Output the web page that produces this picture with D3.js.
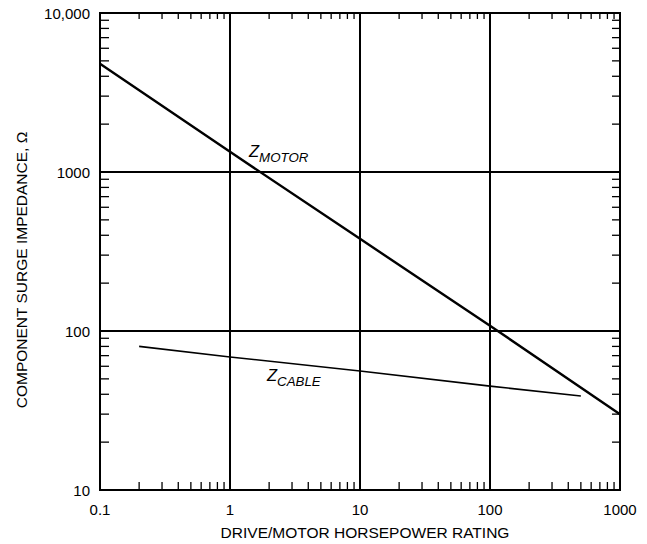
<!DOCTYPE html>
<html><head><meta charset="utf-8">
<script src="https://cdn.jsdelivr.net/npm/d3@7/dist/d3.min.js"></script>
<style>body{margin:0;background:#fff}svg{display:block}text{font-family:"Liberation Sans",Arial,sans-serif;fill:#000}</style>
</head><body><svg id="c" width="647" height="544"></svg>
<script>
const xTicks = [0.1, 1, 10, 100, 1000];
const xTickLabels = ["0.1", "1", "10", "100", "1000"];
const yTicks = [10, 100, 1000, 10000];
const yTickLabels = ["10", "100", "1000", "10,000"];
const motorHp = [0.1, 1, 10, 100, 1000];
const motorZ = [4800, 1340, 380, 108, 30];
const cableHp = [0.2, 1, 10, 100, 500];
const cableZ = [80, 68.7, 56, 45, 39];
const xTitle = "DRIVE/MOTOR HORSEPOWER RATING";
const yTitle = "COMPONENT SURGE IMPEDANCE, Ω";

const L = 100, R = 620, T = 13, B = 490;
const svg = d3.select("#c");
const x = d3.scaleLog().domain([0.1, 1000]).range([L, R]);
const y = d3.scaleLog().domain([10, 10000]).range([B, T]);

const minorX = [], minorY = [];
for (let d = 0.1; d < 1000; d *= 10) for (let k = 2; k <= 9; k++) minorX.push(d * k);
for (let d = 10; d < 10000; d *= 10) for (let k = 2; k <= 9; k++) minorY.push(d * k);

const g = svg.append("g");
g.selectAll(".mxb").data(minorX).enter().append("line")
  .attr("x1", d => x(d)).attr("x2", d => x(d)).attr("y1", B).attr("y2", B - 8)
  .attr("stroke", "#000").attr("stroke-width", 1.3);
g.selectAll(".mxt").data(minorX).enter().append("line")
  .attr("x1", d => x(d)).attr("x2", d => x(d)).attr("y1", T).attr("y2", T + 6)
  .attr("stroke", "#000").attr("stroke-width", 1.3);
g.selectAll(".myl").data(minorY).enter().append("line")
  .attr("y1", d => y(d)).attr("y2", d => y(d)).attr("x1", L).attr("x2", L + 9)
  .attr("stroke", "#000").attr("stroke-width", 1.3);
g.selectAll(".myr").data(minorY).enter().append("line")
  .attr("y1", d => y(d)).attr("y2", d => y(d)).attr("x1", R).attr("x2", R - 8)
  .attr("stroke", "#000").attr("stroke-width", 1.3);

g.selectAll(".gx").data(xTicks.slice(1, -1)).enter().append("line")
  .attr("x1", d => x(d)).attr("x2", d => x(d)).attr("y1", T).attr("y2", B)
  .attr("stroke", "#000").attr("stroke-width", 2);
g.selectAll(".gy").data(yTicks.slice(1, -1)).enter().append("line")
  .attr("y1", d => y(d)).attr("y2", d => y(d)).attr("x1", L).attr("x2", R)
  .attr("stroke", "#000").attr("stroke-width", 2);

g.append("rect").attr("x", L).attr("y", T).attr("width", R - L).attr("height", B - T)
  .attr("fill", "none").attr("stroke", "#000").attr("stroke-width", 2);

g.selectAll(".xl").data(xTicks).enter().append("text")
  .attr("x", d => x(d)).attr("y", 515).attr("text-anchor", "middle")
  .attr("font-size", 15).text((d, i) => xTickLabels[i]);
g.selectAll(".yl").data(yTicks).enter().append("text")
  .attr("x", 90).attr("y", d => y(d) + 5.5).attr("text-anchor", "end")
  .attr("font-size", 15).text((d, i) => yTickLabels[i]);

svg.append("text").attr("x", 365).attr("y", 538).attr("text-anchor", "middle")
  .attr("font-size", 15.5).text(xTitle);
svg.append("text").attr("transform", "translate(27,270) rotate(-90)")
  .attr("text-anchor", "middle").attr("font-size", 15.5).text(yTitle);

const line = d3.line().x(d => x(d[0])).y(d => y(d[1]));
svg.append("path").datum(motorHp.map((h, i) => [h, motorZ[i]]))
  .attr("d", line).attr("fill", "none").attr("stroke", "#000").attr("stroke-width", 2.4);
svg.append("path").datum(cableHp.map((h, i) => [h, cableZ[i]]))
  .attr("d", line).attr("fill", "none").attr("stroke", "#000").attr("stroke-width", 1.6);

function zlabel(px, py, sub) {
  const t = svg.append("text").attr("x", px).attr("y", py).attr("font-style", "italic");
  t.append("tspan").attr("font-size", 16.5).text("Z");
  t.append("tspan").attr("font-size", 13.3).attr("dy", 5).text(sub);
}
zlabel(249, 157, "MOTOR");
zlabel(267, 381, "CABLE");
</script></body></html>
